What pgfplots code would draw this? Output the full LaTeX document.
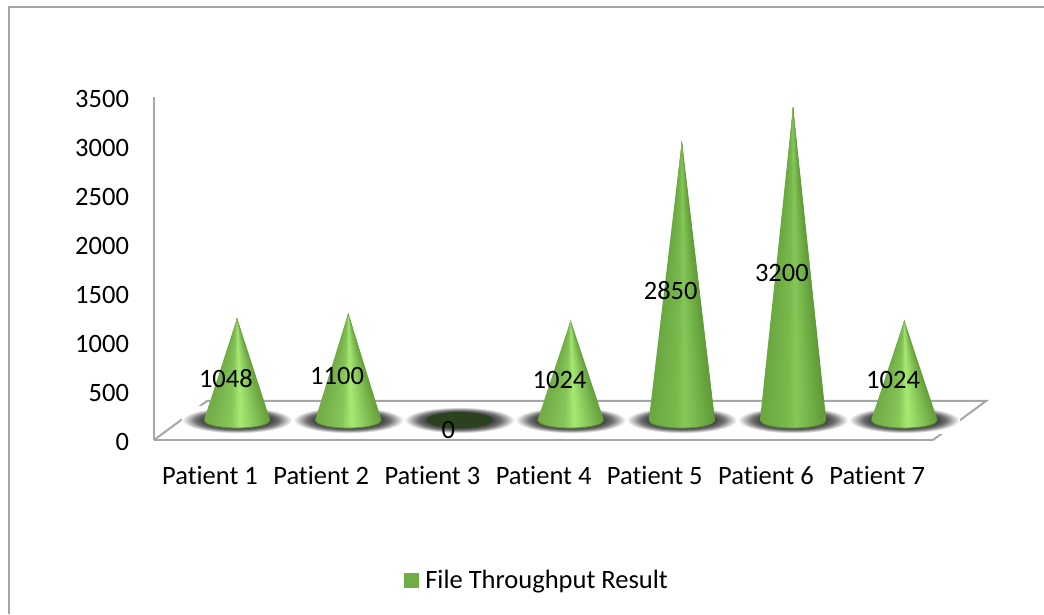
\documentclass[border=0pt]{standalone}
\usepackage{pgfplots}
\usepackage{pgfplotstable}
\usepackage{fontspec}
\pgfplotsset{compat=1.18}
\setmainfont[Ligatures=NoCommon]{Carlito}

% Patient index and measured throughput
\pgfplotstableread{
pos value
0   1048
1   1100
2   0
3   1024
4   2850
5   3200
6   1024
}\throughput

\definecolor{framegray}{HTML}{A6A6A6}
\definecolor{legendgreen}{HTML}{70AD47}
\definecolor{conedark}{HTML}{2B4220}
\definecolor{conerim}{HTML}{5C9236}

% Soft floor shadow below each cone
\pgfdeclareradialshading{floorshadow}{\pgfpoint{0bp}{0bp}}{%
  color(0bp)=(black!78);color(15bp)=(black!74);color(19bp)=(black!56);
  color(22bp)=(black!28);color(25bp)=(white);color(50bp)=(white)}

% Surface tones across a cone, left to right, for the low and the tall cones
\def\conesteps{30}
\definecolor{lowedgeL}{HTML}{70AB46}
\definecolor{lowmid}{HTML}{86C557}
\definecolor{lowhigh}{HTML}{A6EA74}
\definecolor{lowedgeR}{HTML}{66A03C}
\definecolor{talledgeL}{HTML}{6AA83F}
\definecolor{tallmid}{HTML}{78B84D}
\definecolor{tallhigh}{HTML}{86C858}
\definecolor{talledgeR}{HTML}{5E9A37}
\pgfplotsforeachungrouped \k in {0,...,29}{%
  \pgfmathsetmacro\t{(\k+0.5)/\conesteps}%
  \pgfmathsetmacro\pa{max(0,min(100,100*\t/0.40))}%
  \pgfmathsetmacro\pb{max(0,min(100,100*(\t-0.40)/0.16))}%
  \pgfmathsetmacro\pc{max(0,min(100,100*(\t-0.56)/0.44))}%
  \ifdim\t pt<0.40pt
    \colorlet{low\k}{lowmid!\pa!lowedgeL}\colorlet{tall\k}{tallmid!\pa!talledgeL}%
  \else\ifdim\t pt<0.56pt
    \colorlet{low\k}{lowhigh!\pb!lowmid}\colorlet{tall\k}{tallhigh!\pb!tallmid}%
  \else
    \colorlet{low\k}{lowedgeR!\pc!lowhigh}\colorlet{tall\k}{talledgeR!\pc!tallhigh}%
  \fi\fi
}

% Cone geometry in axis units
\def\coneoff{0.243}   % depth offset of the cones along x
\def\halfw{0.297}     % base half width
\def\basey{204}       % height of the base centre on the floor
\def\baseb{82}        % base half height
\def\apexlift{194}    % floor depth added to each value at the apex

% #1 position, #2 value, #3 palette
% Each wedge reaches under the next one, which paints over it, so no seams show.
\newcommand\drawcone[3]{%
  \pgfmathsetmacro\cx{#1+\coneoff}%
  \pgfmathsetmacro\apex{#2+\apexlift}%
  \def\rim{}%
  \pgfplotsforeachungrouped \k in {0,...,29}{%
    \pgfmathsetmacro\ua{2*\k/\conesteps-1}%
    \pgfmathsetmacro\ub{2*(\k+1)/\conesteps-1}%
    \pgfmathsetmacro\uc{min(1,2*(\k+2)/\conesteps-1)}%
    \pgfmathsetmacro\xa{\cx+\halfw*\ua}%
    \pgfmathsetmacro\xb{\cx+\halfw*\ub}%
    \pgfmathsetmacro\xc{\cx+\halfw*\uc}%
    \pgfmathsetmacro\ya{\basey-\baseb*sqrt(max(0,1-\ua*\ua))}%
    \pgfmathsetmacro\yb{\basey-\baseb*sqrt(max(0,1-\ub*\ub))}%
    \pgfmathsetmacro\yc{\basey-\baseb*sqrt(max(0,1-\uc*\uc))}%
    \edef\rim{\rim(\xa,\ya)}%
    \edef\temp{\noexpand\addplot[forget plot,draw=none,fill=#3\k]
      coordinates {(\xa,\ya)(\cx,\apex)(\xc,\yc)(\xb,\yb)};}%
    \temp
  }%
  \edef\temp{\noexpand\addplot[forget plot,draw=conerim,line width=0.9pt,mark=none]
    coordinates {\rim(\xb,\yb)};}%
  \temp
}

% Dark elliptical base of a cone, seen alone when the value is zero
\newcommand\drawbase[1]{%
  \pgfmathsetmacro\cx{#1+\coneoff}%
  \def\pts{}%
  \pgfplotsforeachungrouped \k in {0,...,36}{%
    \pgfmathsetmacro\xa{\cx+\halfw*cos(\k*10)}%
    \pgfmathsetmacro\ya{\basey+\baseb*sin(\k*10)}%
    \edef\pts{\pts(\xa,\ya)}%
  }%
  \edef\temp{\noexpand\addplot[forget plot,draw=none,fill=conedark] coordinates {\pts};}%
  \temp
}

\begin{document}
\fontsize{26.5}{32}\selectfont
\begin{tikzpicture}[x=1pt,y=1pt]
\path[use as bounding box] (0,0) rectangle (1044,614);
\draw[framegray,line width=2pt] (8.5,0) -- (8.5,606.5) -- (1044,606.5);
\begin{axis}[
  at={(154pt,174pt)},anchor=south west,
  scale only axis,width=779pt,height=343pt,
  xmin=-0.5036,xmax=6.5018,ymin=0,ymax=3500,
  clip=false,
  axis x line*=bottom,axis y line*=left,
  axis line style={draw=framegray,line width=2pt,-},
  xtick={0,1,2,3,4,5,6},
  xticklabels={Patient 1,Patient 2,Patient 3,Patient 4,Patient 5,Patient 6,Patient 7},
  ytick={0,500,1000,1500,2000,2500,3000,3500},
  major tick length=0pt,
  tick label style={font=\fontsize{26.5}{32}\selectfont,black},
  /pgf/number format/assume math mode=true,
  /pgf/number format/1000 sep={},
  yticklabel style={xshift=-16pt,yshift=-1.5pt},
  xticklabel style={yshift=-17pt},
  legend style={at={(0.4917,-0.411)},anchor=center,draw=none,fill=none,
    font=\fontsize{26.5}{32}\selectfont,/tikz/every even column/.style={column sep=0pt}},
  legend cell align=left,
]
\addlegendimage{legend image code/.code={%
  \fill[legendgreen,draw=none] (0pt,-7.5pt) rectangle (15pt,7.5pt);
  \path[draw=none,fill=none] (0pt,0pt) -- (19pt,0pt);}}
\addlegendentry{File Throughput Result}

% Remaining edges of the floor
\addplot[forget plot,draw=framegray,line width=2pt] coordinates
  {(-0.5036,0)(-0.0270,398)(6.9784,398)(6.5018,0)};

% Shadows first, so that no cone is covered by a neighbour's shadow
\pgfplotsforeachungrouped \i in {0,...,6}{%
  \pgfmathsetmacro\cx{\i+\coneoff}%
  \pgfmathsetmacro\sl{\cx-0.495}%
  \pgfmathsetmacro\sr{\cx+0.495}%
  \edef\temp{\noexpand\addplot[forget plot,draw=none,shading=floorshadow] coordinates
    {(\sl,71)(\sr,71)(\sr,337)(\sl,337)};}%
  \temp
}

% Cones
\pgfplotsforeachungrouped \i in {0,...,6}{%
  \pgfplotstablegetelem{\i}{value}\of\throughput
  \let\val\pgfplotsretval
  \drawbase{\i}%
  \ifdim\val pt>0pt
    \ifdim\val pt>2000pt \drawcone{\i}{\val}{tall}\else \drawcone{\i}{\val}{low}\fi
  \fi
}

% Value labels, halfway up each cone and left of its axis
\addplot[forget plot,draw=none,mark=none,
  point meta=\thisrow{value},
  nodes near coords,
  nodes near coords style={anchor=center,text=black,
    font=\fontsize{26.5}{32}\selectfont,
    /pgf/number format/fixed,/pgf/number format/precision=0,
    /pgf/number format/assume math mode=true,
    /pgf/number format/1000 sep={}}]
  table[x expr=\thisrow{pos}+0.143,y expr=\thisrow{value}/2+103]{\throughput};
\end{axis}
\end{tikzpicture}
\end{document}
